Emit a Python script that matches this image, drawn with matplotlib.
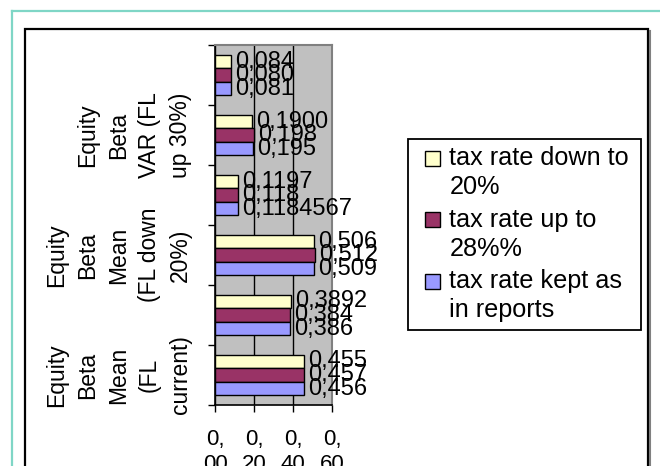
import matplotlib
matplotlib.use('Agg')
import matplotlib.pyplot as plt
from matplotlib.patches import Rectangle, Patch
from matplotlib.lines import Line2D
from matplotlib.legend_handler import HandlerPatch

plt.rcParams['font.family'] = ['Liberation Sans', 'DejaVu Sans']

# ── Data (bottom category first) ────────────────────────────────────────────
categories = ['Equity\nBeta\nMean\n(FL\ncurrent)', '',
              'Equity\nBeta\nMean\n(FL down\n20%)', '',
              'Equity\nBeta\nVAR (FL\nup 30%)', '']
series_names = ['tax rate down to\n20%', 'tax rate up to\n28%%',
                'tax rate kept as\nin reports']
down_20 = [0.455, 0.3892, 0.506, 0.1197, 0.1900, 0.084]
up_28 = [0.457, 0.384, 0.512, 0.118, 0.198, 0.080]
kept = [0.456, 0.386, 0.509, 0.1184567, 0.195, 0.081]
down_20_lbl = ['0,455', '0,3892', '0,506', '0,1197', '0,1900', '0,084']
up_28_lbl = ['0,457', '0,384', '0,512', '0,118', '0,198', '0,080']
kept_lbl = ['0,456', '0,386', '0,509', '0,1184567', '0,195', '0,081']
x_ticks = [0.0, 0.2, 0.4, 0.6]

C_YEL = '#ffffcc'
C_MAR = '#993366'
C_BLU = '#9999ff'
W, H = 660, 466


class TopSquare(HandlerPatch):
    """Small square at the right of the handle box, level with line one."""
    def create_artists(self, legend, orig_handle, xdescent, ydescent,
                       width, height, fontsize, trans):
        s = 10.8
        shift = 10.8
        p = Rectangle((-xdescent + width - s,
                       -ydescent + height / 2 - s / 2 + shift), s, s)
        self.update_prop(p, orig_handle, legend)
        p.set_transform(trans)
        return [p]


fig = plt.figure(figsize=(6.6, 4.66), dpi=100)
ax = fig.add_axes([215 / W, 1 - 405 / H, 117 / W, 360 / H])
ax.set_facecolor('#c0c0c0')

# ── page decorations: teal page border + black chart frame ─────────────────
fig.add_artist(Line2D([11.7 / W, 1], [1 - 10.7 / H] * 2, color='#7fd6c6',
                      lw=1.6, transform=fig.transFigure))
fig.add_artist(Line2D([11.7 / W] * 2, [0, 1 - 10.7 / H], color='#7fd6c6',
                      lw=1.6, transform=fig.transFigure))
fig.add_artist(Line2D([649.5 / W] * 2, [-0.01, 1 - 31 / H], color='#808080',
                      lw=1.5, transform=fig.transFigure))
fig.add_artist(Rectangle((25 / W, -0.05), 622.7 / W, 1.05 - 28.7 / H,
                         fill=False, ec='black', lw=1.6,
                         transform=fig.transFigure))

# ── bars ───────────────────────────────────────────────────────────────────
h = 0.225
ypos = [i + 0.5 for i in range(len(categories))]
for vals, lbls, col, off in [(down_20, down_20_lbl, C_YEL, h),
                             (up_28, up_28_lbl, C_MAR, 0.0),
                             (kept, kept_lbl, C_BLU, -h)]:
    ys = [y + off for y in ypos]
    ax.barh(ys, vals, height=h, color=col, edgecolor='black', lw=1.0,
            zorder=3)
    for v, y, t in zip(vals, ys, lbls):
        ax.annotate(t, xy=(v, y), xytext=(3, 0), textcoords='offset points',
                    ha='left', va='center', fontsize=17, zorder=5,
                    annotation_clip=False)

ax.set_xlim(0, 0.6)
ax.set_ylim(0, len(categories))
ax.set_axisbelow(True)
ax.grid(axis='x', color='black', lw=1.0)
ax.grid(axis='y', visible=False)

# x ticks: "0,\n00" style (wrapped by the narrow axis)
ax.set_xticks(x_ticks)
ax.set_xticklabels([f'{t:.2f}'.replace('.', ',\n') for t in x_ticks],
                   fontsize=16, linespacing=1.25)
ax.tick_params(axis='x', length=5, width=1, direction='out', pad=12)

# y: labels at category centres, tick marks at the boundaries
ax.set_yticks(ypos)
ax.set_yticklabels(categories, rotation=90, va='center', ha='right',
                   multialignment='center', fontsize=16.5, linespacing=1.45)
ax.set_yticks(range(len(categories) + 1), minor=True)
ax.tick_params(axis='y', which='major', length=0, pad=16.5)
ax.tick_params(axis='y', which='minor', length=5, width=1, direction='out')

for s in ['left', 'bottom']:
    ax.spines[s].set_color('black')
    ax.spines[s].set_linewidth(1.2)
for s in ['top', 'right']:
    ax.spines[s].set_color('#808080')
    ax.spines[s].set_linewidth(1.5)

# ── legend ────────────────────────────────────────────────────────────────
handles = [Patch(facecolor=c, edgecolor='black', lw=1.0, label=n)
           for c, n in zip([C_YEL, C_MAR, C_BLU], series_names)]
leg = fig.legend(handles=handles, loc='upper left',
                 bbox_to_anchor=(408 / W, 1 - 139 / H, 233 / W, 0.001),
                 mode='expand', fontsize=18.2, frameon=True, fancybox=False,
                 edgecolor='black', framealpha=1, borderpad=0.3,
                 borderaxespad=0, handlelength=0.98, handleheight=0.55,
                 handletextpad=0.36, labelspacing=0.32,
                 handler_map={Patch: TopSquare()})
leg.get_frame().set_linewidth(1.3)
for t in leg.get_texts():
    t.set_linespacing(1.28)

fig.savefig('out.png', dpi=100, facecolor='white')
